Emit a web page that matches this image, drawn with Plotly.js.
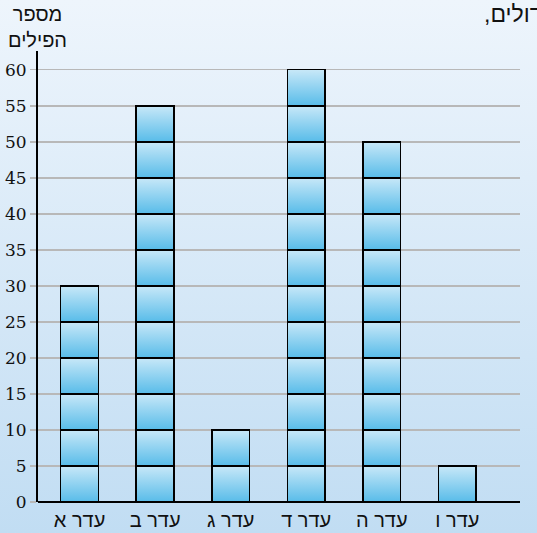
<!DOCTYPE html>
<html><head><meta charset="utf-8">
<script src="https://cdn.plot.ly/plotly-3.0.1.min.js"></script>
<style>
html,body{margin:0;padding:0;}
body{width:537px;height:533px;background:linear-gradient(to bottom,#eef5fc 0%,#c1ddf3 100%);overflow:hidden;}
#chart{width:537px;height:533px;}
</style></head><body><div id="chart"></div>
<script>
const categories = ['עדר א','עדר ב','עדר ג','עדר ד','עדר ה','עדר ו'];
const values = [30, 55, 10, 60, 50, 5];
const segmentSize = 5;
const yTickValues = [0,5,10,15,20,25,30,35,40,45,50,55,60];
const yAxisTitle = 'מספר<br>הפילים';
const headerFragment = 'גדולים,\u200F';

const maxLevels = Math.max(...values) / segmentSize;
const traces = [];
for (let k = 0; k < maxLevels; k++) {
  traces.push({
    type: 'bar',
    x: categories,
    y: values.map(v => v >= segmentSize * (k + 1) ? segmentSize : null),
    width: 0.5,
    marker: {color: '#8fd0f0', line: {color: '#000', width: 1.5}},
    hoverinfo: 'skip',
    showlegend: false
  });
}

const layout = {
  width: 537, height: 533,
  margin: {l: 38, r: 17, t: 51, b: 31, pad: 0},
  paper_bgcolor: 'rgba(0,0,0,0)',
  plot_bgcolor: 'rgba(0,0,0,0)',
  barmode: 'stack',
  showlegend: false,
  xaxis: {
    type: 'category', range: [-0.55, 5.83],
    showgrid: false, showline: false, zeroline: false, ticks: '',
    ticklabelstandoff: 4,
    tickfont: {family: 'Liberation Sans', size: 20, color: '#111'},
    fixedrange: true
  },
  yaxis: {
    range: [0, 62.6], tickvals: yTickValues,
    showgrid: true, gridcolor: '#b8b8b8', gridwidth: 1.5,
    showline: true, linecolor: '#000', linewidth: 2,
    zeroline: true, zerolinecolor: '#000', zerolinewidth: 2,
    ticks: 'outside', ticklen: 6, tickcolor: '#b8b8b8', tickwidth: 1.5,
    tickfont: {family: 'DejaVu Serif', size: 17, color: '#111'},
    fixedrange: true
  },
  annotations: [
    {text: yAxisTitle, xref: 'paper', yref: 'paper', x: -0.002, y: 1.053,
     xanchor: 'center', yanchor: 'middle', showarrow: false, align: 'center',
     font: {family: 'Liberation Sans', size: 20, color: '#111'}},
    {text: headerFragment, xref: 'paper', yref: 'paper', x: 0.921, y: 1.082,
     xanchor: 'left', yanchor: 'middle', showarrow: false,
     font: {family: 'Liberation Sans', size: 23, color: '#111'}}
  ]
};

function applyGradient(gd) {
  const svg = gd.querySelector('.main-svg');
  if (!svg) return;
  let defs = svg.querySelector('defs');
  if (!defs) { defs = document.createElementNS('http://www.w3.org/2000/svg', 'defs'); svg.insertBefore(defs, svg.firstChild); }
  if (!svg.querySelector('#segGrad')) {
    const ns = 'http://www.w3.org/2000/svg';
    const g = document.createElementNS(ns, 'linearGradient');
    g.setAttribute('id', 'segGrad');
    g.setAttribute('x1', '0'); g.setAttribute('y1', '0');
    g.setAttribute('x2', '0'); g.setAttribute('y2', '1');
    [['0%', '#c8e8f8'], ['100%', '#58bce9']].forEach(([o, c]) => {
      const s = document.createElementNS(ns, 'stop');
      s.setAttribute('offset', o); s.setAttribute('stop-color', c);
      g.appendChild(s);
    });
    defs.appendChild(g);
  }
  gd.querySelectorAll('.barlayer .point path').forEach(p => { p.style.fill = 'url(#segGrad)'; p.style.fillOpacity = 1; });
}

const gd = document.getElementById('chart');
Plotly.newPlot(gd, traces, layout, {displayModeBar: false, staticPlot: true}).then(() => {
  applyGradient(gd);
  gd.on('plotly_afterplot', () => applyGradient(gd));
});
</script></body></html>
